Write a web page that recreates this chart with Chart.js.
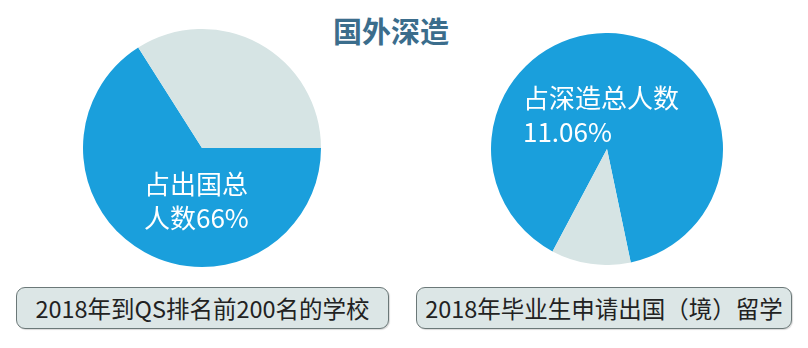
<!DOCTYPE html>
<html>
<head>
<meta charset="utf-8">
<script src="https://cdn.jsdelivr.net/npm/chart.js@4"></script>
<style>
  body { margin: 0; background: #ffffff; font-family: "Noto Sans CJK SC", "Noto Sans", sans-serif; }
  #wrap { position: relative; width: 808px; height: 348px; overflow: hidden; }
  .title { position: absolute; left: 291px; width: 200px; top: 10px; text-align: center; font-size: 29px; font-weight: bold; color: #3b6d8c; line-height: 40px; }
  .pie { position: absolute; }
  .lbl { position: absolute; color: #ffffff; font-size: 26px; line-height: 34px; white-space: nowrap; }
  .box { position: absolute; top: 287px; height: 40px; border: 1.5px solid #6b7878; border-radius: 9px; background: #dce6e6; color: #222; font-size: 23.5px; line-height: 40px; text-align: center; white-space: nowrap; box-shadow: 1px 1px 1px rgba(0,0,0,0.15); }
</style>
</head>
<body>
<div id="wrap">
  <div class="title">国外深造</div>
  <div class="pie" style="left:83px; top:29px; width:238px; height:238px;"><canvas id="pieLeft"></canvas></div>
  <div class="pie" style="left:491px; top:33px; width:232px; height:232px;"><canvas id="pieRight"></canvas></div>
  <div class="lbl" style="left:144px; top:166px;">占出国总<br>人数66%</div>
  <div class="lbl" style="left:523px; top:80px;">占深造总人数<br>11.06%</div>
  <div class="box" style="left:16px; width:371px;">2018年到QS排名前200名的学校</div>
  <div class="box" style="left:416px; width:374px;">2018年毕业生申请出国（境）留学</div>
</div>
<script>
// share values (%)
const leftCategories = ['QS前200名', '其他'];
const leftValues = [66, 34];
const rightCategories = ['深造', '其他'];
const rightValues = [88.94, 11.06];

const blue = '#1a9fdc';
const grey = '#d6e4e4';

function makePie(id, labels, values, rotation) {
    const ctx = document.getElementById(id).getContext('2d');
    return new Chart(ctx, {
        type: 'pie',
        data: {
            labels: labels,
            datasets: [{
                data: values,
                backgroundColor: [blue, grey],
                borderColor: '#ffffff',
                borderWidth: 0
            }]
        },
        options: {
            responsive: true,
            maintainAspectRatio: false,
            animation: false,
            rotation: rotation,
            layout: { padding: 0 },
            plugins: {
                legend: { display: false },
                tooltip: { enabled: false }
            }
        }
    });
}

makePie('pieLeft', leftCategories, leftValues, 90);
makePie('pieRight', rightCategories, rightValues, -152);
</script>
</body>
</html>
